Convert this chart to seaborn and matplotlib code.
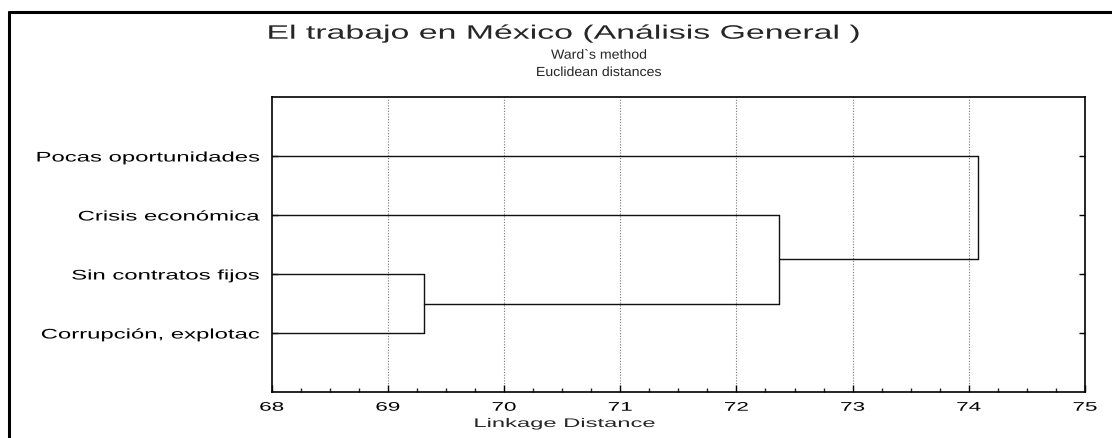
import numpy as np
import pandas as pd
import matplotlib
matplotlib.use("Agg")
import matplotlib.pyplot as plt
from matplotlib import patheffects
from matplotlib.lines import Line2D
from matplotlib.ticker import MultipleLocator
from matplotlib.transforms import Affine2D
import seaborn as sns

# Variables (top to bottom) and the Ward agglomeration steps
leaf_labels = ["Pocas oportunidades", "Crisis económica",
               "Sin contratos fijos", "Corrupción, explotac"]
# each step joins two clusters (indices: leaves 0..3, new clusters 4, 5, ...)
merge_left = [2, 4, 5]
merge_right = [3, 1, 0]
merge_height = [69.31, 72.37, 74.08]
x_min, x_max = 68, 75

sns.set_theme(style="white")
plt.rcParams["font.family"] = ["Liberation Sans", "DejaVu Sans"]


class StretchX(patheffects.AbstractPathEffect):
    """Draw text glyphs widened horizontally about a chosen anchor."""

    def __init__(self, sx, anchor="center"):
        super().__init__()
        self.sx = sx
        self.anchor = anchor

    def draw_path(self, renderer, gc, tpath, affine, rgbFace=None):
        bb = tpath.get_extents(affine)
        x0 = {"left": bb.x0, "center": 0.5 * (bb.x0 + bb.x1), "right": bb.x1}[self.anchor]
        stretched = affine + Affine2D().translate(-x0, 0).scale(self.sx, 1).translate(x0, 0)
        renderer.draw_path(gc, tpath, stretched, rgbFace)


# Build dendrogram segments from the merge table
leaf_pos = {i: i + 1 for i in range(len(leaf_labels))}
node_y = dict(leaf_pos)
node_x = {i: x_min for i in range(len(leaf_labels))}
rows = []
seg = 0
for k, (a, b, h) in enumerate(zip(merge_left, merge_right, merge_height)):
    for n in (a, b):
        rows.append((seg, node_x[n], node_y[n]))
        rows.append((seg, h, node_y[n]))
        seg += 1
    rows.append((seg, h, node_y[a]))
    rows.append((seg, h, node_y[b]))
    seg += 1
    new = len(leaf_labels) + k
    node_y[new] = (node_y[a] + node_y[b]) / 2
    node_x[new] = h
segments = pd.DataFrame(rows, columns=["seg", "dist", "pos"])

fig = plt.figure(figsize=(11.12, 4.39), dpi=100)
W, H = 1112, 439
ax = fig.add_axes([271.7 / W, 1 - 393 / H, (1085 - 271.7) / W, (393 - 98) / H])

sns.lineplot(data=segments, x="dist", y="pos", units="seg", estimator=None,
             sort=False, color="#111111", linewidth=1.0, ax=ax, legend=False)

ax.set_xlim(x_min, x_max)
ax.set_ylim(len(leaf_labels) + 1, 0)
ax.xaxis.set_major_locator(MultipleLocator(1))
ax.xaxis.set_minor_locator(MultipleLocator(0.25))
ax.set_yticks(list(leaf_pos.values()))
ax.set_yticklabels(leaf_labels)
ax.set_xlabel("")
ax.set_ylabel("")
ax.grid(False)
for xv in range(x_min + 1, x_max):
    ax.axvline(xv, color="#777777", linestyle=(0, (1, 1.5)), linewidth=0.8, zorder=0)

for s in ax.spines.values():
    s.set_color("black")
    s.set_linewidth(1.2)
ax.tick_params(axis="x", which="major", direction="in", length=5, width=1,
               bottom=True, top=False, labelsize=9, pad=7, colors="black")
ax.tick_params(axis="x", which="minor", direction="in", length=3, width=1,
               bottom=True, top=False)
ax.tick_params(axis="y", which="major", direction="in", length=4, width=1,
               left=True, right=True, labelsize=10, pad=8.5, colors="black")
for lab in ax.get_xticklabels():
    lab.set_path_effects([StretchX(1.8, "center")])
for lab in ax.get_yticklabels():
    lab.set_path_effects([StretchX(1.72, "right")])

fig.text(565 / W, 1 - 39.7 / H, "El trabajo en México (Análisis General )",
         ha="center", va="baseline", fontsize=14,
         path_effects=[StretchX(1.74, "center")])
fig.text(599 / W, 1 - 59.7 / H, "Ward`s method", ha="center", va="baseline",
         fontsize=9.5, path_effects=[StretchX(1.07, "center")])
fig.text(599 / W, 1 - 77 / H, "Euclidean distances", ha="center", va="baseline",
         fontsize=9.5, path_effects=[StretchX(1.07, "center")])
fig.text(565 / W, 1 - 428 / H, "Linkage Distance", ha="center", va="baseline",
         fontsize=9, path_effects=[StretchX(1.9, "center")])

# Outer frame (left and top edges)
fig.add_artist(Line2D([8.5 / W, 8.5 / W], [0, 1 - 12.5 / H], color="black", linewidth=2.2))
fig.add_artist(Line2D([8.5 / W, 1], [1 - 12.5 / H, 1 - 12.5 / H], color="black", linewidth=2.2))

fig.savefig("out.png", dpi=100)
